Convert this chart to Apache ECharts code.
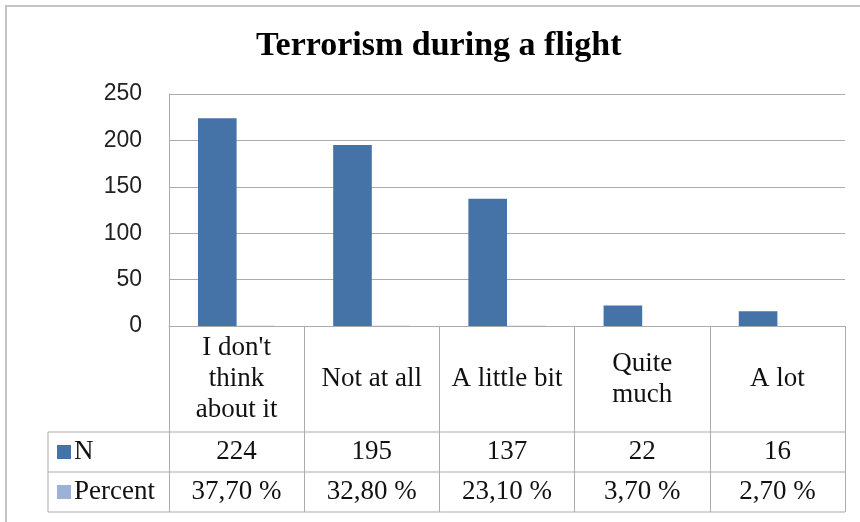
<!DOCTYPE html>
<html>
<head>
<meta charset="utf-8">
<script src="https://cdn.jsdelivr.net/npm/echarts@6/dist/echarts.min.js"></script>
<style>
  html, body { margin: 0; padding: 0; background: #fff; }
  #chart { width: 860px; height: 522px; }
</style>
</head>
<body>
<div id="chart"></div>
<script>
// Survey answers: how much respondents think about terrorism while flying
const titleText = 'Terrorism during a flight';
const categories = ["I don't\nthink\nabout it", 'Not at all', 'A little bit', 'Quite\nmuch', 'A lot'];
const nValues = [224, 195, 137, 22, 16];
const percentValues = [0.377, 0.328, 0.231, 0.037, 0.027];
const yTicks = [0, 50, 100, 150, 200, 250];

const serif = '"Liberation Serif", "DejaVu Serif", serif';
const lineColor = '#ABABAB';
const nColor = '#4572A7';
const pColor = '#9BB1D6';

// Plot area geometry (pixels)
const G = { left: 169, top: 94, width: 676, height: 232 };
const axisY = G.top + G.height;
const row1 = 432, row2 = 472, row3 = 512, tableLeft = 48;

const fmtPercent = v => (v * 100).toFixed(2).replace('.', ',') + ' %';

const chart = echarts.init(document.getElementById('chart'), null, { renderer: 'canvas' });

function tableAxis(labels, centerY) {
  return {
    type: 'category',
    gridIndex: 0,
    position: 'bottom',
    data: labels,
    axisLine: { show: false },
    axisTick: { show: false },
    splitLine: { show: false },
    axisLabel: {
      interval: 0,
      margin: centerY - axisY,
      verticalAlign: 'middle',
      fontFamily: serif,
      fontSize: 27,
      color: '#111'
    }
  };
}

chart.setOption({
  animation: false,
  backgroundColor: '#fff',
  title: {
    text: titleText,
    left: 256,
    top: 29,
    padding: 0,
    textStyle: { fontFamily: serif, fontWeight: 'bold', fontSize: 34, color: '#000' }
  },
  legend: {
    orient: 'vertical',
    left: 57,
    top: 438,
    padding: 0,
    icon: 'rect',
    itemWidth: 14,
    itemHeight: 14,
    itemGap: 12,
    selectedMode: false,
    textStyle: { fontFamily: serif, fontSize: 27, lineHeight: 28, color: '#111', padding: [0, 0, 0, -2] },
    data: ['N', 'Percent']
  },
  grid: { left: G.left, top: G.top, width: G.width, height: G.height, containLabel: false },
  xAxis: [
    {
      type: 'category',
      data: categories,
      position: 'bottom',
      z: 3,
      axisLine: { show: true, lineStyle: { color: lineColor, width: 1 } },
      axisTick: { show: true, length: row3 - axisY, lineStyle: { color: lineColor, width: 1 } },
      axisLabel: {
        interval: 0,
        margin: (row1 + axisY) / 2 - axisY,
        verticalAlign: 'middle',
        align: 'center',
        lineHeight: 31,
        fontFamily: serif,
        fontSize: 27,
        color: '#111'
      }
    },
    tableAxis(nValues.map(String), (row1 + row2) / 2),
    tableAxis(percentValues.map(fmtPercent), (row2 + row3) / 2)
  ],
  yAxis: {
    type: 'value',
    min: yTicks[0],
    max: yTicks[yTicks.length - 1],
    interval: yTicks[1] - yTicks[0],
    axisLine: { show: true, lineStyle: { color: lineColor, width: 1 } },
    axisTick: { show: false },
    splitLine: { show: true, lineStyle: { color: lineColor, width: 1 } },
    axisLabel: { margin: 27, fontFamily: '"Liberation Sans", sans-serif', fontSize: 23, color: '#222' }
  },
  series: [
    {
      name: 'N',
      type: 'bar',
      xAxisIndex: 0,
      data: nValues,
      barWidth: '28.57%',
      barGap: '0%',
      itemStyle: { color: nColor }
    },
    {
      name: 'Percent',
      type: 'bar',
      xAxisIndex: 0,
      data: percentValues,
      barWidth: '28.57%',
      barGap: '0%',
      itemStyle: { color: pColor }
    }
  ],
  graphic: [
    // outer chart frame
    { type: 'rect', shape: { x: 6, y: 6, width: 900, height: 600 }, style: { fill: null, stroke: '#C4C4C4', lineWidth: 2 }, silent: true },
    // data table rules
    { type: 'line', shape: { x1: tableLeft, y1: row1, x2: G.left + G.width, y2: row1 }, style: { stroke: lineColor, lineWidth: 1 } },
    { type: 'line', shape: { x1: tableLeft, y1: row2, x2: G.left + G.width, y2: row2 }, style: { stroke: lineColor, lineWidth: 1 } },
    { type: 'line', shape: { x1: tableLeft, y1: row3, x2: G.left + G.width, y2: row3 }, style: { stroke: lineColor, lineWidth: 1 } },
    { type: 'line', shape: { x1: tableLeft, y1: row1, x2: tableLeft, y2: row3 }, style: { stroke: lineColor, lineWidth: 1 } }
  ]
});
</script>
</body>
</html>
